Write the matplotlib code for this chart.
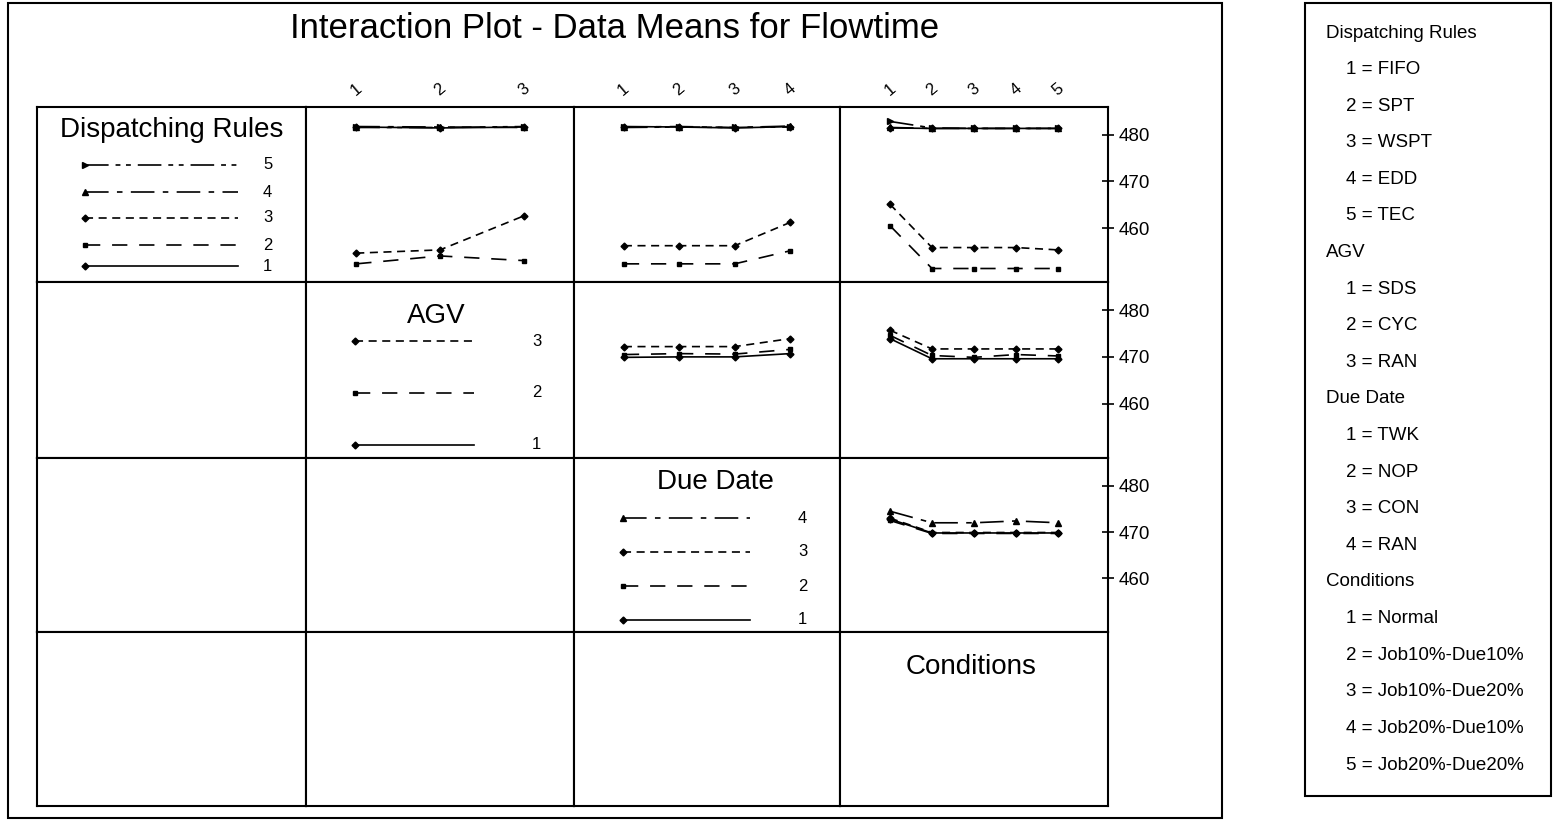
import matplotlib
matplotlib.use('Agg')
import matplotlib.pyplot as plt
from matplotlib.patches import Rectangle

plt.rcParams['font.family'] = ['Liberation Sans', 'DejaVu Sans']
plt.rcParams['lines.scale_dashes'] = False

# factor names and levels
factors = ['Dispatching Rules', 'AGV', 'Due Date', 'Conditions']
n_levels = [5, 3, 4, 5]

# data means (rows = trace factor levels, cols = x factor levels)
dr_by_agv = [[481.7, 481.5, 481.7],
             [452.3, 454.0, 453.0],
             [454.6, 455.3, 462.6],
             [481.8, 481.7, 481.6],
             [481.6, 481.6, 481.8]]
dr_by_due = [[481.8, 481.7, 481.5, 481.8],
             [452.3, 452.3, 452.3, 455.1],
             [456.2, 456.2, 456.2, 461.2],
             [481.7, 481.8, 481.6, 481.9],
             [481.6, 481.7, 481.6, 481.7]]
dr_by_cond = [[481.5, 481.4, 481.4, 481.4, 481.4],
              [460.5, 451.3, 451.3, 451.3, 451.3],
              [465.1, 455.8, 455.8, 455.8, 455.3],
              [481.6, 481.4, 481.4, 481.4, 481.4],
              [482.9, 481.5, 481.4, 481.4, 481.4]]
agv_by_due = [[469.9, 470.0, 470.0, 470.7],
              [470.5, 470.7, 470.6, 471.6],
              [472.2, 472.2, 472.2, 473.9]]
agv_by_cond = [[473.9, 469.6, 469.6, 469.6, 469.6],
               [474.6, 470.3, 469.9, 470.5, 470.2],
               [475.7, 471.7, 471.7, 471.7, 471.7]]
due_by_cond = [[472.8, 469.8, 469.8, 469.8, 469.8],
               [472.5, 469.7, 469.7, 469.7, 469.7],
               [473.0, 469.9, 469.9, 469.9, 469.9],
               [474.5, 472.0, 472.0, 472.4, 472.0]]

yticks = [460, 470, 480]

key_items = ['Dispatching Rules', '1 = FIFO', '2 = SPT', '3 = WSPT', '4 = EDD', '5 = TEC',
             'AGV', '1 = SDS', '2 = CYC', '3 = RAN',
             'Due Date', '1 = TWK', '2 = NOP', '3 = CON', '4 = RAN',
             'Conditions', '1 = Normal', '2 = Job10%-Due10%', '3 = Job10%-Due20%',
             '4 = Job20%-Due10%', '5 = Job20%-Due20%']

panels = {(0, 1): dr_by_agv, (0, 2): dr_by_due, (0, 3): dr_by_cond,
          (1, 2): agv_by_due, (1, 3): agv_by_cond, (2, 3): due_by_cond}

# line style / marker per level
styles = [('-', 'D', 3.5),
          ((0, (11, 8.5)), 's', 3.5),
          ((0, (5.8, 4)), 'D', 3.5),
          ((0, (17, 6, 4, 6)), '^', 4.5),
          ((0, (17, 5, 3.5, 4, 3.5, 5)), '>', 4.5)]

W, H = 1557, 823
fig = plt.figure(figsize=(W / 100, H / 100), dpi=100)

def box(x0, y0, x1, y1):
    return [x0 / W, 1 - y1 / H, (x1 - x0) / W, (y1 - y0) / H]

col_edges = [37, 306, 574, 840, 1108]
row_edges = [107, 282, 458, 632, 806]
xlims = [None, (0.4, 3.6), (0.1, 4.9), (-0.19, 6.19)]

# legend layout in the diagonal cells (axes fractions)
title_pos = [(0.5, 0.87), (0.487, 0.806), (0.53, 0.862), (0.49, 0.8)]
leg_y = [[0.091, 0.211, 0.366, 0.514, 0.669],
         [0.074, 0.371, 0.663],
         [0.069, 0.264, 0.46, 0.655],
         []]
leg_x = [(0.178, 0.747, 0.84), (0.182, 0.628, 0.844), (0.184, 0.66, 0.842), None]

for r in range(4):
    for c in range(4):
        ax = fig.add_axes(box(col_edges[c], row_edges[r], col_edges[c + 1], row_edges[r + 1]))
        for s in ax.spines.values():
            s.set_linewidth(1.5)
        ax.set_xticks([])
        ax.set_yticks([])
        if c > r:
            data = panels[(r, c)]
            x = list(range(1, n_levels[c] + 1))
            for i, vals in enumerate(data):
                ls, mk, ms = styles[i]
                ax.plot(x, vals, color='black', linestyle=ls, lw=1.2,
                        marker=mk, markersize=ms)
            ax.set_xlim(xlims[c])
            ax.set_ylim(448.4, 486.0)
            if r == 0:
                ax.xaxis.tick_top()
                ax.set_xticks(x)
                ax.set_xticklabels([str(v) for v in x], rotation=40, fontsize=12)
                ax.tick_params(axis='x', length=0, pad=6)
            if c == 3:
                ax.yaxis.tick_right()
                ax.set_yticks(yticks)
                ax.set_yticklabels([str(v) for v in yticks], fontsize=13.5)
                ax.tick_params(axis='y', direction='inout', length=9, width=1.2, pad=3)
        elif c == r:
            ax.set_xlim(0, 1)
            ax.set_ylim(0, 1)
            ax.text(title_pos[r][0], title_pos[r][1], factors[r], fontsize=20,
                    ha='center', va='center')
            if leg_x[r] is not None:
                x0, x1, xl = leg_x[r]
                for i, yy in enumerate(leg_y[r]):
                    ls, mk, ms = styles[i]
                    ax.plot([x0, x1], [yy, yy], color='black', linestyle=ls, lw=1.2,
                            marker=mk, markersize=ms, markevery=[0])
                    ax.text(xl, yy, str(i + 1), fontsize=12, ha='left', va='center')

fig.text(615 / W, 1 - 28 / H, 'Interaction Plot - Data Means for Flowtime',
         fontsize=25, ha='center', va='center')

# outer frame and key box
fig.patches.append(Rectangle((8 / W, 1 - 818 / H), (1222 - 8) / W, (818 - 3) / H,
                             transform=fig.transFigure, fill=False, lw=1.5, ec='black'))
fig.patches.append(Rectangle((1305 / W, 1 - 796 / H), (1551 - 1305) / W, (796 - 3) / H,
                             transform=fig.transFigure, fill=False, lw=1.5, ec='black'))

step = (765 - 33) / (len(key_items) - 1)
for i, item in enumerate(key_items):
    indent = 20 if item[0].isdigit() else 0
    fig.text((1326 + indent) / W, 1 - (33 + step * i) / H, item, fontsize=13.5,
             ha='left', va='center')

plt.savefig('out.png', dpi=100)
